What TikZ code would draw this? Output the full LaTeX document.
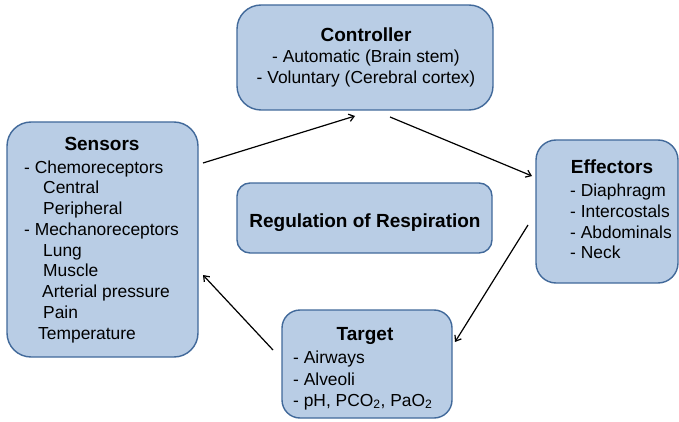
\documentclass[tikz,border=0pt]{standalone}
\usepackage{fontspec}
\setmainfont{Liberation Sans}
\usetikzlibrary{arrows.meta}
\definecolor{boxfill}{HTML}{B9CDE5}
\definecolor{boxline}{HTML}{41699A}
\tikzset{
  box/.style={draw=boxline, fill=boxfill, line width=1.4pt, inner sep=0pt},
  ttl/.style={font=\fontsize{19}{21}\selectfont\bfseries, inner sep=0pt, anchor=base},
  txt/.style={font=\fontsize{17.4}{21}\selectfont, inner sep=0pt, anchor=base west},
  ctxt/.style={font=\fontsize{17.4}{21}\selectfont, inner sep=0pt, anchor=base},
  arr/.style={line width=1.2pt, -{Straight Barb[length=5pt,width=7.5pt,line width=1.2pt]}}
}
\begin{document}
\begin{tikzpicture}[x=1pt,y=-1pt]
\useasboundingbox (0,0) rectangle (679,422);
% boxes
\node[box, rounded corners=24pt, minimum width=256pt, minimum height=105pt] (ctrl) at (365,57.5) {};
\node[box, rounded corners=24pt, minimum width=191pt, minimum height=235pt] (sens) at (102.5,239.5) {};
\node[box, rounded corners=20pt, minimum width=142pt, minimum height=143pt] (eff) at (607,211.5) {};
\node[box, rounded corners=18pt, minimum width=170pt, minimum height=108pt] (targ) at (367,364) {};
\node[box, rounded corners=13pt, minimum width=255pt, minimum height=70pt] (reg) at (364.5,218) {};
% controller text
\node[ttl] (ctrlT) at (366,42) {Controller};
\node[ctxt] (ctrl1) at (366,63) {- Automatic (Brain stem)};
\node[ctxt] (ctrl2) at (366,84) {- Voluntary (Cerebral cortex)};
% regulation
\node[ttl] (regT) at (365,227) {Regulation of Respiration};
% sensors
\node[ttl] (sensT) at (102,151) {Sensors};
\node[txt] (s1) at (24,173) {- Chemoreceptors};
\node[txt] (s2) at (43,193.75) {Central};
\node[txt] (s3) at (43,214.5) {Peripheral};
\node[txt] (s4) at (24,235.25) {- Mechanoreceptors};
\node[txt] (s5) at (43,256) {Lung};
\node[txt] (s6) at (43,276.75) {Muscle};
\node[txt] (s7) at (42,297.5) {Arterial pressure};
\node[txt] (s8) at (43,318.25) {Pain};
\node[txt] (s9) at (38,339) {Temperature};
% effectors
\node[ttl] (effT) at (612,174) {Effectors};
\node[txt] (e1) at (570,196) {- Diaphragm};
\node[txt] (e2) at (570,217) {- Intercostals};
\node[txt] (e3) at (570,238) {- Abdominals};
\node[txt] (e4) at (570,258) {- Neck};
% target
\node[ttl] (targT) at (365,340) {Target};
\node[txt] (t1) at (293,363) {- Airways};
\node[txt] (t2) at (293,385) {- Alveoli};
\node[txt] (t3) at (293,406) {- pH, PCO\textsubscript{2}, PaO\textsubscript{2}};
% arrow end points
\coordinate (a1s) at (203,163);
\coordinate (a1e) at (355,116);
\coordinate (a2s) at (390,117);
\coordinate (a2e) at (532,176);
\coordinate (a3s) at (528,225);
\coordinate (a3e) at (455,342);
\coordinate (a4s) at (273,350);
\coordinate (a4e) at (203,275);
\draw[arr] (a1s) -- (a1e);
\draw[arr] (a2s) -- (a2e);
\draw[arr] (a3s) -- (a3e);
\draw[arr] (a4s) -- (a4e);
\end{tikzpicture}
\end{document}
